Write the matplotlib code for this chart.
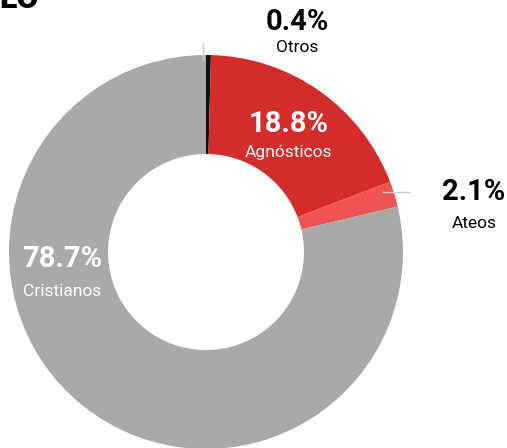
import matplotlib
matplotlib.use("Agg")
import matplotlib.pyplot as plt

# ============================================================
# DATA
# ============================================================
labels = ["Otros", "Agnósticos", "Ateos", "Cristianos"]
shares = [0.4, 18.8, 2.1, 78.7]
colors = ["#111111", "#d42b2b", "#ee5454", "#a9a9a9"]

FONT = ["Roboto", "DejaVu Sans"]

# ============================================================
# FIGURE
# ============================================================
fig = plt.figure(figsize=(5.07, 4.48), dpi=100)
ax = fig.add_axes([0, 0, 1, 1])

# pie in y-down coordinates: counterclock=True draws clockwise on screen
ax.pie(shares, colors=colors, startangle=-90, counterclock=True,
       center=(206, 252), radius=197,
       wedgeprops=dict(width=99, edgecolor="none"), frame=True)
ax.set_xlim(0, 507)
ax.set_ylim(448, 0)
ax.set_aspect("equal")
ax.axis("off")

# leader lines
ax.plot([203, 203], [43, 60], color="#cccccc", lw=1)
ax.plot([383, 409], [192, 192], color="#cccccc", lw=1)

# partial title at top (cut off as in the original)
ax.text(-1, 8, "LO", fontsize=23, fontweight="black", family=FONT,
        ha="left", va="baseline", color="black")

def pct_label(x, y, pct, name, color, dy=29):
    ax.text(x, y, pct, fontsize=21, fontweight="bold", family=FONT,
            ha="center", va="center", color=color)
    ax.text(x, y + dy, name, fontsize=12.5, family=FONT,
            ha="center", va="center", color=color)

pct_label(297, 22, f"{shares[0]}%", labels[0], "black", dy=26)
pct_label(289, 124, f"{shares[1]}%", labels[1], "white")
pct_label(474, 192, f"{shares[2]}%", labels[2], "black", dy=31)
pct_label(62, 259, f"{shares[3]}%", labels[3], "white", dy=33)

plt.savefig("out.png", dpi=100)
plt.close()
